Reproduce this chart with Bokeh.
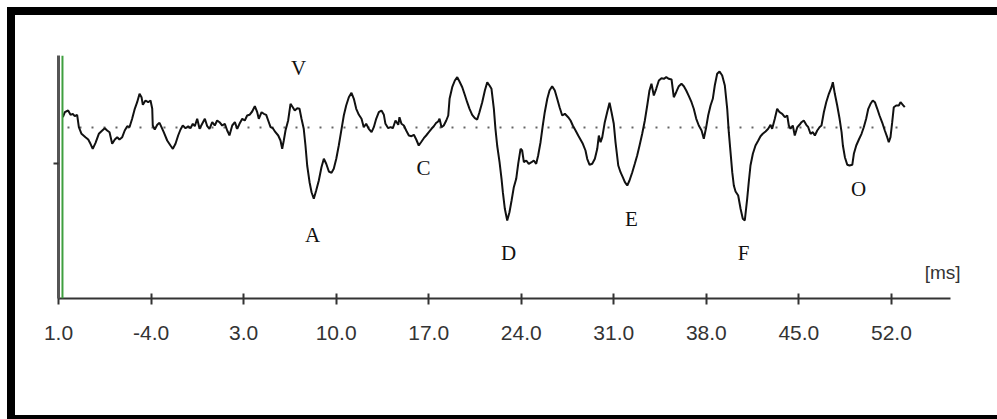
from bokeh.plotting import figure
from bokeh.models import Range1d, FixedTicker, Span, ColumnDataSource
from bokeh.core.properties import value
from bokeh.embed import file_html
from bokeh.resources import INLINE

# ---- data ----
time_ms = [
    -10.67, -10.52, -10.27, -10.09, -9.92, -9.77, -9.59, -9.46, -9.26, -8.96,
    -8.75, -8.58, -8.41, -8.20, -7.95, -7.69, -7.50, -7.32, -7.14, -6.94,
    -6.74, -6.56, -6.39, -6.18, -5.99, -5.80, -5.63, -5.43, -5.23, -5.05,
    -4.87, -4.72, -4.62, -4.42, -4.22, -4.04, -3.91, -3.87, -3.72, -3.53,
    -3.36, -3.21, -3.04, -2.78, -2.53, -2.35, -2.15, -1.95, -1.77, -1.60,
    -1.39, -1.19, -1.02, -0.84, -0.69, -0.51, -0.33, -0.13, 0.07, 0.25,
    0.42, 0.63, 0.82, 1.00, 1.18, 1.38, 1.58, 1.76, 1.88, 1.93,
    2.14, 2.34, 2.52, 2.69, 2.90, 3.09, 3.27, 3.45, 3.65, 3.85,
    4.03, 4.15, 4.36, 4.53, 4.71, 4.86, 5.04, 5.21, 5.41, 5.62,
    5.79, 5.92, 6.04, 6.17, 6.37, 6.55, 6.72, 6.87, 7.06, 7.23,
    7.38, 7.55, 7.68, 7.81, 7.99, 8.14, 8.31, 8.49, 8.69, 8.89,
    9.07, 9.25, 9.45, 9.65, 9.82, 10.01, 10.20, 10.41, 10.58, 10.76,
    10.96, 11.16, 11.34, 11.52, 11.72, 11.92, 12.09, 12.27, 12.47, 12.68,
    12.85, 13.03, 13.23, 13.43, 13.61, 13.73, 13.94, 14.11, 14.29, 14.49,
    14.70, 14.79, 14.94, 15.12, 15.30, 15.50, 15.70, 15.88, 16.06, 16.25,
    16.46, 16.63, 16.81, 17.01, 17.21, 17.39, 17.57, 17.72, 17.82, 17.97,
    18.14, 18.33, 18.48, 18.58, 18.78, 18.98, 19.16, 19.33, 19.54, 19.73,
    19.91, 20.09, 20.29, 20.49, 20.67, 20.84, 21.05, 21.25, 21.43, 21.60,
    21.75, 21.93, 22.05, 22.18, 22.36, 22.51, 22.61, 22.76, 22.94, 23.11,
    23.27, 23.44, 23.62, 23.77, 23.95, 24.07, 24.20, 24.38, 24.57, 24.78,
    24.95, 25.13, 25.28, 25.46, 25.63, 25.78, 25.97, 26.14, 26.34, 26.54,
    26.72, 26.90, 27.10, 27.30, 27.55, 27.73, 27.90, 28.11, 28.31, 28.48,
    28.66, 28.86, 28.99, 29.17, 29.37, 29.57, 29.75, 29.87, 30.00, 30.13,
    30.32, 30.50, 30.68, 30.83, 31.00, 31.13, 31.34, 31.51, 31.68, 31.84,
    32.02, 32.19, 32.40, 32.59, 32.77, 32.95, 33.15, 33.35, 33.53, 33.70,
    33.85, 34.03, 34.21, 34.41, 34.61, 34.79, 34.97, 35.16, 35.37, 35.54,
    35.72, 35.92, 36.12, 36.30, 36.48, 36.68, 36.88, 37.05, 37.24, 37.43,
    37.64, 37.81, 37.99, 38.14, 38.32, 38.49, 38.64, 38.82, 39.00, 39.20,
    39.40, 39.58, 39.70, 39.83, 39.96, 40.08, 40.21, 40.41, 40.59, 40.76,
    40.91, 41.09, 41.21, 41.34, 41.52, 41.72, 41.93, 42.10, 42.27, 42.48,
    42.68, 42.86, 42.98, 43.18, 43.36, 43.54, 43.74, 43.94, 44.12, 44.24,
    44.37, 44.54, 44.69, 44.88, 45.05, 45.20, 45.37, 45.56, 45.71, 45.88,
    46.06, 46.21, 46.39, 46.56, 46.71, 46.89, 47.07, 47.27, 47.47, 47.57,
    47.72, 47.90, 48.08, 48.23, 48.33, 48.48, 48.66, 48.83, 49.04, 49.16,
    49.34, 49.54, 49.74, 49.91, 50.09, 50.25, 50.42, 50.59, 50.75, 50.93,
    51.10, 51.31, 51.50, 51.68, 51.80, 51.93, 52.06, 52.18, 52.36, 52.56,
    52.69, 52.86, 53.01,
]

amplitude = [
    10.3, 15.3, 17.0, 12.7, 13.7, 11.3, 12.7, 0.3, -6.3, -9.7,
    -12.0, -16.3, -21.3, -15.3, -6.3, -3.0, -0.7, -3.0, -4.7, -16.3,
    -12.0, -9.7, -12.0, -9.7, -3.0, 1.3, 0.3, 8.7, 18.7, 25.3,
    33.7, 30.3, 22.7, 27.0, 25.3, 27.0, 18.7, 2.0, -2.0, 2.7,
    4.7, 0.3, -4.7, -13.0, -18.0, -21.3, -16.3, -8.0, -2.0, 2.0,
    -0.7, 1.3, -0.7, 3.7, 1.3, 8.7, -1.3, 3.7, 8.7, 1.3,
    -1.3, 5.3, 2.0, 7.0, 5.3, 2.0, 3.7, -3.0, -6.3, -8.0,
    2.0, 5.3, -1.3, 3.7, 8.7, 7.0, 12.0, 12.7, 16.0, 21.3,
    15.3, 8.7, 15.3, 13.7, 12.7, 7.0, 0.3, -0.7, -4.7, -8.0,
    -13.0, -21.3, -13.0, -3.0, 7.0, 23.7, 20.3, 17.0, 19.3, 18.7,
    8.7, -1.3, -18.0, -38.0, -54.7, -64.7, -71.3, -63.0, -53.0, -39.7,
    -31.3, -36.3, -44.0, -45.3, -41.3, -31.3, -18.0, -1.3, 12.0, 22.0,
    30.3, 34.7, 28.7, 18.7, 12.7, 8.7, 0.3, 3.7, -1.3, -4.7,
    0.3, 8.7, 15.3, 17.0, 12.7, 3.7, -0.7, 0.3, -0.7, 7.0,
    2.7, 10.3, 3.7, 2.0, -3.0, -8.0, -8.7, -7.3, -12.0, -18.0,
    -14.0, -10.7, -8.0, -4.7, -1.3, 1.3, 4.7, 6.0, 8.7, 0.3,
    2.0, 7.0, 12.0, 28.7, 40.3, 47.0, 50.3, 46.0, 40.3, 32.7,
    25.3, 18.7, 12.7, 9.3, 8.0, 15.3, 25.3, 37.0, 45.3, 42.0,
    38.7, 18.7, -1.3, -18.0, -34.7, -51.3, -64.7, -81.3, -93.0, -84.7,
    -73.0, -59.7, -51.3, -36.3, -21.3, -23.0, -34.7, -33.0, -36.3, -34.7,
    -33.0, -36.3, -28.0, -14.7, 2.0, 15.3, 28.7, 37.0, 41.3, 37.0,
    28.7, 20.3, 12.0, 13.7, 10.3, 7.0, 2.0, -3.0, -8.0, -12.0,
    -16.3, -23.0, -31.3, -37.3, -36.3, -31.3, -21.3, -8.0, -14.7, -9.7,
    5.3, 15.3, 24.7, 15.3, 3.7, -14.7, -38.0, -44.7, -49.7, -54.7,
    -58.0, -53.0, -44.7, -36.3, -28.0, -18.0, -6.3, 7.0, 22.0, 37.0,
    43.7, 32.0, 38.7, 47.0, 49.3, 48.7, 50.3, 48.7, 48.0, 30.3,
    35.3, 41.3, 43.7, 41.3, 37.0, 31.3, 25.3, 18.7, 8.7, 2.0,
    -3.0, -11.3, 0.3, 12.0, 22.0, 28.7, 42.0, 53.7, 56.0, 52.0,
    42.0, 18.7, -4.7, -24.7, -44.7, -58.0, -64.0, -68.0, -81.3, -91.3,
    -93.0, -71.3, -54.7, -38.0, -26.3, -18.0, -13.0, -8.7, -6.3, -4.0,
    -1.3, 2.7, -1.3, 8.7, 18.7, 15.3, 13.7, 10.3, 12.0, 2.0,
    -1.3, 2.0, -8.0, 0.3, 2.7, 5.3, 7.0, 2.7, 0.3, -6.3,
    -4.7, -8.0, -3.0, 0.3, 2.0, 15.3, 25.3, 33.7, 40.3, 45.3,
    33.7, 22.0, 8.7, -4.7, -18.0, -29.7, -37.3, -38.0, -37.3, -26.3,
    -18.0, -12.0, -6.3, 0.3, 8.7, 18.7, 23.7, 27.0, 25.3, 18.7,
    12.0, 4.7, -3.0, -9.7, -14.7, -9.7, 5.3, 20.3, 22.0, 22.0,
    25.3, 22.7, 20.3,
]

tick_values = [-11, -4, 3, 10, 17, 24, 31, 38, 45, 52]
tick_labels = ["1.0", "-4.0", "3.0", "10.0", "17.0", "24.0", "31.0", "38.0", "45.0", "52.0"]
axis_end = 56.47

peak_names = ["V", "A", "C", "D", "E", "F", "O"]
peak_time = [7.15, 8.21, 16.61, 23.04, 32.34, 40.81, 49.51]
peak_label_amp = [60, -107, -40, -125, -91, -125, -61]

onset_time = -10.70
y_scale_tick = [-36]
unit_label = "[ms]"
unit_time = 55.87
unit_amp = -145

# ---- figure ----
p = figure(width=997, height=419, output_backend="svg", toolbar_location=None,
           x_range=Range1d(-11, 58.36), y_range=Range1d(-171, 72),
           min_border_left=58, min_border_right=22, min_border_top=55,
           min_border_bottom=121)
# picture frame: thick black border on the left, top and bottom (drawn by CSS, no layout change)
p.styles = {"background-color": "white",
            "box-shadow": "inset 7px 7px 0 0 white, inset 15px 15px 0 0 black, "
                          "inset 0 -4px 0 0 black"}
p.background_fill_color = None
p.border_fill_color = None
p.outline_line_color = None
p.grid.visible = False

# x axis
xa = p.xaxis[0]
xa.ticker = FixedTicker(ticks=tick_values, minor_ticks=[])
xa.bounds = (tick_values[0], axis_end)
xa.major_label_overrides = {v: s for v, s in zip(tick_values, tick_labels)}
xa.axis_line_color = "#333333"
xa.axis_line_width = 2
xa.major_tick_line_color = "#333333"
xa.major_tick_line_width = 2
xa.major_tick_in = 5
xa.major_tick_out = 6
xa.minor_tick_line_color = None
xa.major_label_standoff = 21
xa.major_label_text_font = "Liberation Sans"
xa.major_label_text_font_size = "21px"
xa.major_label_text_color = "#333333"

# y axis
ya = p.yaxis[0]
ya.ticker = FixedTicker(ticks=y_scale_tick, minor_ticks=[])
ya.major_label_text_color = None
ya.major_label_text_font_size = "1px"
ya.axis_line_color = "#555555"
ya.axis_line_width = 3
ya.major_tick_line_color = "#333333"
ya.major_tick_line_width = 2
ya.major_tick_in = 0
ya.major_tick_out = 5
ya.minor_tick_line_color = None

# green onset marker
p.add_layout(Span(location=onset_time, dimension="height", line_color="#3f9f3f",
                  line_width=2))

# dotted baseline
p.line([time_ms[0] + 0.35, time_ms[-1]], [0, 0], line_color="#666666", line_width=2,
       line_dash="2 10")

# waveform
src = ColumnDataSource(dict(t=time_ms, a=amplitude))
p.line("t", "a", source=src, line_color="#111111", line_width=2)

# peak labels
p.text(x=peak_time, y=peak_label_amp, text=peak_names, text_font=value("Liberation Serif"),
       text_font_size="21px", text_align="center", text_baseline="middle",
       text_color="#111111")

# unit label
p.text(x=[unit_time], y=[unit_amp], text=[unit_label],
       text_font=value("Liberation Sans"), text_font_size="19px",
       text_align="center", text_baseline="middle", text_color="#333333")

open("out.html", "w").write(file_html(p, INLINE))
